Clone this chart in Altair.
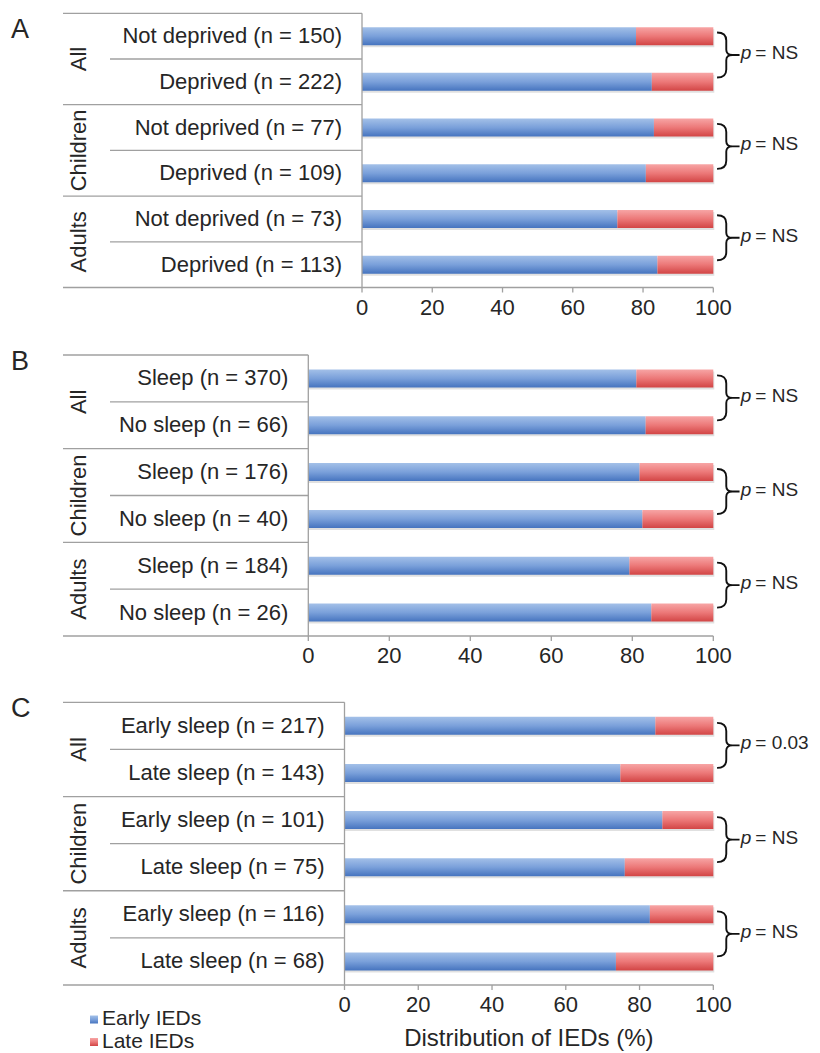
import altair as alt
import pandas as pd

# ---------------- data ----------------
groups = ["All", "Children", "Adults"]
series = ["Early IEDs", "Late IEDs"]
x_ticks = [0, 20, 40, 60, 80, 100]
x_title = "Distribution of IEDs (%)"

labels_a = ["Not deprived (n = 150)", "Deprived (n = 222)", "Not deprived (n = 77)",
            "Deprived (n = 109)", "Not deprived (n = 73)", "Deprived (n = 113)"]
early_a = [78.0, 82.5, 83.1, 80.8, 72.7, 84.1]
late_a = [22.0, 17.5, 16.9, 19.2, 27.3, 15.9]
p_a = ["NS", "NS", "NS"]

labels_b = ["Sleep (n = 370)", "No sleep (n = 66)", "Sleep (n = 176)",
            "No sleep (n = 40)", "Sleep (n = 184)", "No sleep (n = 26)"]
early_b = [81.0, 83.3, 81.8, 82.5, 79.3, 84.7]
late_b = [19.0, 16.7, 18.2, 17.5, 20.7, 15.3]
p_b = ["NS", "NS", "NS"]

labels_c = ["Early sleep (n = 217)", "Late sleep (n = 143)", "Early sleep (n = 101)",
            "Late sleep (n = 75)", "Early sleep (n = 116)", "Late sleep (n = 68)"]
early_c = [84.3, 74.8, 86.2, 76.0, 82.8, 73.6]
late_c = [15.7, 25.2, 13.8, 24.0, 17.2, 26.4]
p_c = ["0.03", "NS", "NS"]

# ---------------- style / layout (page pixels) ----------------
FONT = "Liberation Sans"
TXT = "#262626"
LINE = "#a0a0a0"
OFF = 8  # page margin
BLUE = alt.Gradient(gradient="linear", x1=0, x2=0, y1=0, y2=1,
                    stops=[alt.GradientStop(offset=0, color="#a3c0e8"),
                           alt.GradientStop(offset=0.5, color="#7aa0da"),
                           alt.GradientStop(offset=1, color="#4674bf")])
RED = alt.Gradient(gradient="linear", x1=0, x2=0, y1=0, y2=1,
                   stops=[alt.GradientStop(offset=0, color="#f7a5a5"),
                          alt.GradientStop(offset=0.5, color="#ec7878"),
                          alt.GradientStop(offset=1, color="#d24545")])
BRACE = ("M -0.5 -1 Q -0.09 -1 -0.09 -0.64 L -0.09 -0.23 Q -0.09 0 0.18 0 L 0.5 0 "
         "M 0.18 0 Q -0.09 0 -0.09 0.23 L -0.09 0.64 Q -0.09 1 -0.5 1")

RIGHT = 713.3
layouts = {
    "A": dict(axis_x=362.0, top=13.3, bottom=287.5, letter_y=38.0),
    "B": dict(axis_x=308.3, top=355.0, bottom=636.0, letter_y=370.0),
    "C": dict(axis_x=344.5, top=702.3, bottom=985.0, letter_y=716.7),
}


def px(v):
    return v - OFF


def make_panel(letter, labels, early, late, pvals, last):
    L = layouts[letter]
    ax = L["axis_x"]
    rows_df = pd.DataFrame({"row": list(range(len(labels))), "label": labels,
                            "early": early, "late": late})
    group_df = pd.DataFrame({"group": groups, "row": [0, 2, 4], "p": pvals})
    tick_df = pd.DataFrame({"t": x_ticks})

    ys = alt.Scale(domain=list(range(6)), range=[px(L["top"]), px(L["bottom"])],
                   paddingInner=0, paddingOuter=0)
    xs = alt.Scale(domain=[0, 100], range=[px(ax), px(RIGHT)], nice=False, zero=True)

    def yenc(bp=None):
        kw = dict(scale=ys, axis=None)
        if bp is not None:
            kw["bandPosition"] = bp
        return alt.Y("row:O", **kw)

    def xenc(f):
        return alt.X(f, scale=xs, axis=None)

    base = alt.Chart(rows_df).transform_calculate(end="datum.early + datum.late")

    shadow = base.mark_bar(height=18, color="#000000", opacity=0.12, yOffset=2, xOffset=1).encode(
        x=xenc("end:Q"), x2=alt.datum(0), y=yenc())
    early_bar = base.mark_bar(height=18, fill=BLUE).encode(
        x=xenc("early:Q"), x2=alt.datum(0), y=yenc())
    late_bar = base.mark_bar(height=18, fill=RED).encode(
        x=xenc("early:Q"), x2="end:Q", y=yenc())

    row_text = alt.Chart(rows_df).mark_text(
        align="right", baseline="middle", fontSize=22, font=FONT, color=TXT).encode(
        x=alt.value(px(ax - 20)), y=yenc(), text="label:N")

    group_text = alt.Chart(group_df).mark_text(
        angle=270, align="center", baseline="middle", fontSize=22, font=FONT, color=TXT).encode(
        x=alt.value(px(79)), y=yenc(1), text="group:N")

    full_lines = alt.Chart(group_df).mark_rule(color=LINE, strokeWidth=1.3).encode(
        x=alt.value(px(63)), x2=alt.value(px(ax)), y=yenc(0))
    inner_lines = alt.Chart(rows_df).transform_filter("datum.row % 2 == 1").mark_rule(
        color=LINE, strokeWidth=1.3).encode(x=alt.value(px(110)), x2=alt.value(px(ax)), y=yenc(0))
    bottom_line = alt.Chart(rows_df).transform_filter("datum.row == 5").mark_rule(
        color=LINE, strokeWidth=1.3).encode(x=alt.value(px(63)), x2=alt.value(px(ax)), y=yenc(1))
    domain_line = alt.Chart(rows_df).transform_filter("datum.row == 5").mark_rule(
        color=LINE, strokeWidth=1.3).encode(x=alt.X(datum=0, scale=xs, axis=None),
                                           x2=alt.datum(100), y=yenc(1))
    vert_line = alt.Chart(pd.DataFrame({"k": [0]})).mark_rule(color=LINE, strokeWidth=1.3).encode(
        x=alt.value(px(ax)), y=alt.value(px(L["top"])), y2=alt.value(px(L["bottom"])))

    ticks = alt.Chart(tick_df).mark_rule(color=LINE, strokeWidth=1.3).encode(
        x=xenc("t:Q"), y=alt.value(px(L["bottom"])), y2=alt.value(px(L["bottom"] + 5)))
    tick_labels = alt.Chart(tick_df).mark_text(
        align="center", baseline="top", fontSize=22, font=FONT, color=TXT).encode(
        x=xenc("t:Q"), y=alt.value(px(L["bottom"] + 10)), text="t:Q")

    brace = alt.Chart(group_df).mark_point(
        shape=BRACE, size=45 * 45, filled=False, stroke="#111111", strokeWidth=1.9,
        opacity=1, yOffset=-4).encode(x=alt.value(px(RIGHT + 15)), y=yenc(1))
    p_it = alt.Chart(group_df).mark_text(
        text="p", fontStyle="italic", align="left", baseline="middle", fontSize=19,
        font=FONT, color=TXT, dy=-6).encode(x=alt.value(px(RIGHT + 27.5)), y=yenc(1))
    p_val = alt.Chart(group_df).transform_calculate(ptxt="'= ' + datum.p").mark_text(
        align="left", baseline="middle", fontSize=19, font=FONT, color=TXT, dy=-6).encode(
        x=alt.value(px(RIGHT + 42)), y=yenc(1), text="ptxt:N")

    letter_t = alt.Chart(pd.DataFrame({"letter": [letter]})).mark_text(
        align="left", baseline="alphabetic", fontSize=27, font=FONT, color=TXT).encode(
        x=alt.value(px(11)), y=alt.value(px(L["letter_y"])), text="letter:N")

    layers = [shadow, early_bar, late_bar, row_text, group_text, full_lines, inner_lines,
              bottom_line, domain_line, vert_line, ticks, tick_labels, brace, p_it, p_val,
              letter_t]

    if last:
        layers.append(alt.Chart(pd.DataFrame({"title": [x_title]})).mark_text(
            align="center", baseline="middle", fontSize=24, font=FONT, color=TXT).encode(
            x=alt.X(datum=50, scale=xs, axis=None), y=alt.value(px(1038.5)), text="title:N"))
        fills = [BLUE, RED]
        for i, s in enumerate(series):
            sdf = pd.DataFrame({"s": [s]})
            layers.append(alt.Chart(sdf).mark_square(size=64, fill=fills[i], opacity=1).encode(
                x=alt.value(px(94)), y=alt.value(px(1019.5 + 22.5 * i))))
            layers.append(alt.Chart(sdf).mark_text(
                align="left", baseline="middle", fontSize=21, font=FONT, color=TXT).encode(
                x=alt.value(px(102)), y=alt.value(px(1019 + 22.5 * i)), text="s:N"))

    return alt.layer(*layers)


pa = make_panel("A", labels_a, early_a, late_a, p_a, False)
pb = make_panel("B", labels_b, early_b, late_b, p_b, False)
pc = make_panel("C", labels_c, early_c, late_c, p_c, True)

chart = alt.layer(pa, pb, pc).resolve_scale(x="independent", y="independent").properties(
    width=800, height=1035, padding=0, background="white").configure_view(stroke=None)

chart.save("out.html", embed_options={"renderer": "svg", "actions": False})
